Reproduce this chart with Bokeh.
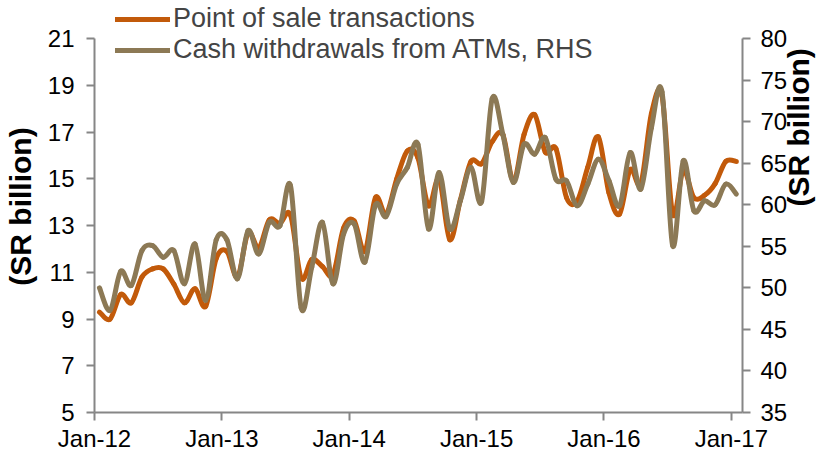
import numpy as np
from bokeh.plotting import figure
from bokeh.models import Range1d, LinearAxis, FixedTicker, Legend, LegendItem, ColumnDataSource
from bokeh.embed import file_html
from bokeh.resources import INLINE

# ---------------- data ----------------
month_index = list(range(61))  # Jan-12 ... Jan-17, monthly
pos_sales = [9.3, 9.0, 10.05, 9.7, 10.8, 11.15, 11.15, 10.5, 9.7, 10.3, 9.55, 11.6, 11.9,
             10.8, 12.7, 12.05, 13.25, 13.1, 13.45, 10.75, 11.55, 11.25, 10.9, 12.9, 13.2,
             11.9, 14.2, 13.5, 15.0, 16.2, 15.9, 13.85, 15.0, 12.4, 14.1, 15.75, 15.65,
             16.6, 16.9, 14.9, 16.9, 17.75, 16.15, 16.3, 14.2, 14.05, 15.5, 16.8, 14.4,
             13.5, 15.4, 14.8, 17.8, 18.55, 13.5, 15.35, 14.2, 14.3, 14.8, 15.75, 15.75]
atm_cash = [50.0, 47.3, 52.0, 50.3, 54.5, 55.1, 53.7, 54.5, 50.5, 55.3, 48.5, 55.8, 55.8,
            51.1, 56.9, 54.1, 57.9, 57.5, 62.3, 47.6, 52.5, 57.9, 50.5, 56.5, 57.7,
            53.1, 60.0, 58.6, 62.5, 64.5, 67.3, 57.1, 63.9, 57.1, 60.5, 64.5, 60.4,
            72.8, 68.5, 62.7, 67.3, 66.1, 68.1, 63.1, 62.9, 59.9, 62.5, 65.5, 62.9,
            59.9, 66.3, 61.9, 69.3, 73.6, 55.1, 65.3, 59.3, 60.5, 60.0, 62.5, 61.3]
x_tick_months = [0, 12, 24, 36, 48, 60]
x_tick_labels = ["Jan-12", "Jan-13", "Jan-14", "Jan-15", "Jan-16", "Jan-17"]
left_ticks = [5, 7, 9, 11, 13, 15, 17, 19, 21]
right_ticks = [35, 40, 45, 50, 55, 60, 65, 70, 75, 80]
series_names = ["Point of sale transactions", "Cash withdrawals from ATMs, RHS"]
y_title = "(SR billion)"

# ---------------- layout / style ----------------
W, H = 835, 456
BORDER_L, BORDER_R, BORDER_T, BORDER_B = 88, 93, 0, 44
FRAME_H = H - BORDER_T - BORDER_B
TOP_GAP = 38.3            # px between frame top and the top tick (room for the legend)
MID_MONTH = 0.47          # observations plotted mid-month
ORANGE = "#C25A0A"
TAN = "#8C7955"
AXIS = "#868686"
FONT = "Liberation Sans"
TICK_SIZE = "24px"


def padded_top(lo, hi):
    return hi + (hi - lo) * TOP_GAP / (FRAME_H - TOP_GAP)


def smooth_segments(xs, ys):
    """Catmull-Rom style cubic Bezier control points (Excel 'smoothed line')."""
    xs = np.asarray(xs, float)
    ys = np.asarray(ys, float)
    n = len(xs)
    xp = np.concatenate([[xs[0]], xs, [xs[-1]]])
    yp = np.concatenate([[ys[0]], ys, [ys[-1]]])
    i = np.arange(n - 1)
    return dict(
        x0=xp[i + 1], y0=yp[i + 1], x1=xp[i + 2], y1=yp[i + 2],
        cx0=xp[i + 1] + (xp[i + 2] - xp[i]) / 6.0,
        cy0=yp[i + 1] + (yp[i + 2] - yp[i]) / 6.0,
        cx1=xp[i + 2] - (xp[i + 3] - xp[i + 1]) / 6.0,
        cy1=yp[i + 2] - (yp[i + 3] - yp[i + 1]) / 6.0,
    )


xpos = [m + MID_MONTH for m in month_index]
lmin, lmax = left_ticks[0], left_ticks[-1]
rmin, rmax = right_ticks[0], right_ticks[-1]

p = figure(width=W, height=H, output_backend="svg", toolbar_location=None,
           x_range=Range1d(0, 61.05), y_range=Range1d(lmin, padded_top(lmin, lmax)),
           min_border_left=BORDER_L, min_border_right=BORDER_R,
           min_border_top=BORDER_T, min_border_bottom=BORDER_B)
p.extra_y_ranges = {"right": Range1d(rmin, padded_top(rmin, rmax))}
p.outline_line_color = None
p.xgrid.visible = False
p.ygrid.visible = False
p.background_fill_color = "white"
p.border_fill_color = "white"

src_pos = ColumnDataSource(smooth_segments(xpos, pos_sales))
src_atm = ColumnDataSource(smooth_segments(xpos, atm_cash))

r_pos = p.bezier(x0="x0", y0="y0", x1="x1", y1="y1", cx0="cx0", cy0="cy0", cx1="cx1", cy1="cy1",
                 source=src_pos, line_color=ORANGE, line_width=5, line_cap="round")
r_atm = p.bezier(x0="x0", y0="y0", x1="x1", y1="y1", cx0="cx0", cy0="cy0", cx1="cx1", cy1="cy1",
                 source=src_atm, line_color=TAN, line_width=5, line_cap="round",
                 y_range_name="right")

# axes
right_axis = LinearAxis(y_range_name="right", ticker=FixedTicker(ticks=right_ticks),
                        axis_label=y_title, bounds=(rmin, rmax))
p.add_layout(right_axis, "right")

p.xaxis.ticker = FixedTicker(ticks=x_tick_months)
p.xaxis.major_label_overrides = {m: lab for m, lab in zip(x_tick_months, x_tick_labels)}
left_axis = p.yaxis[0]
left_axis.ticker = FixedTicker(ticks=left_ticks)
left_axis.bounds = (lmin, lmax)
left_axis.axis_label = y_title

for ax in [p.xaxis[0], left_axis, right_axis]:
    ax.axis_line_color = AXIS
    ax.axis_line_width = 2
    ax.major_tick_line_color = AXIS
    ax.major_tick_line_width = 2
    ax.major_tick_in = 0
    ax.major_tick_out = 8
    ax.minor_tick_line_color = None
    ax.major_label_text_font = FONT
    ax.major_label_text_font_size = TICK_SIZE
    ax.major_label_text_color = "black"
    ax.axis_label_text_font = FONT
    ax.axis_label_text_font_size = "30px"
    ax.axis_label_text_font_style = "bold"
    ax.axis_label_text_color = "black"

p.xaxis.major_label_standoff = 4
left_axis.major_label_standoff = 12
right_axis.major_label_standoff = 10
left_axis.axis_label_standoff = 8
right_axis.axis_label_standoff = 8
right_axis.axis_label_orientation = np.pi / 2

legend = Legend(items=[LegendItem(label=series_names[0], renderers=[r_pos]),
                       LegendItem(label=series_names[1], renderers=[r_atm])],
                location=(21, FRAME_H - 65), orientation="vertical")
legend.border_line_color = None
legend.background_fill_alpha = 0
legend.label_text_font = FONT
legend.label_text_font_size = "27px"
legend.glyph_width = 55
legend.glyph_height = 28
legend.label_standoff = 3
legend.spacing = -2
legend.padding = 0
legend.margin = 0
p.add_layout(legend, "center")

open("out.html", "w").write(file_html(p, INLINE))
